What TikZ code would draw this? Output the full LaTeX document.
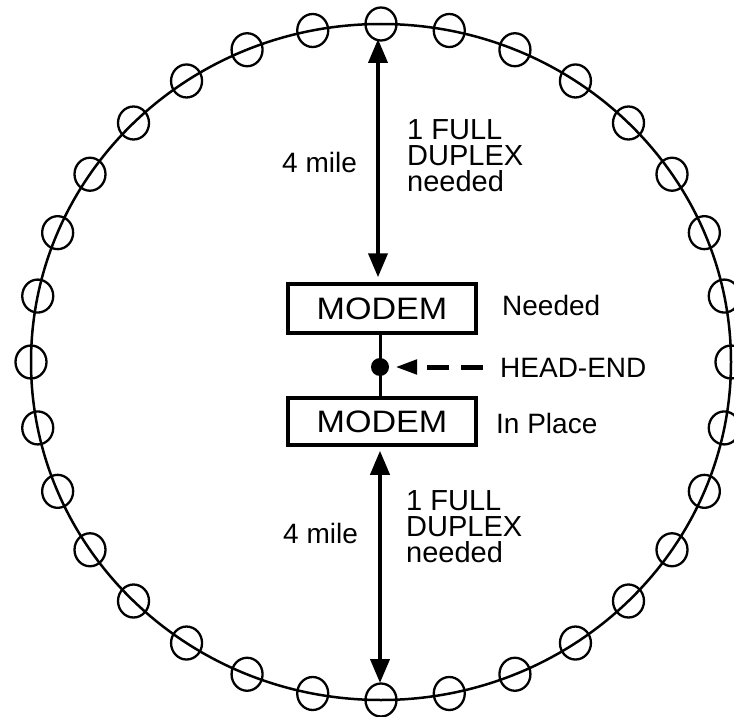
\documentclass[tikz,border=0pt]{standalone}
\usepackage{fontspec}
\setmainfont{Liberation Sans}
\newfontfamily\modemfont[FakeStretch=1.1]{Liberation Sans}
\usetikzlibrary{arrows.meta}
\begin{document}
\begin{tikzpicture}[x=1pt,y=-1pt,
  ring/.style={line width=2.5pt},
  bead/.style={line width=2.3pt},
  modembox/.style={draw,line width=3.5pt,minimum width=188pt,inner sep=0pt,
    font=\modemfont\fontsize{31}{31}\selectfont},
  lbl/.style={font=\fontsize{28}{28}\selectfont,inner sep=0pt,anchor=base west},
  col/.style={font=\fontsize{29}{26}\selectfont,inner sep=0pt,anchor=north west,align=left},
  span/.style={line width=4pt,
    {Triangle[length=24pt,width=19pt]}-{Triangle[length=24pt,width=19pt]}},
  headarrow/.style={line width=5pt,dash pattern=on 22pt off 12pt,
    -{Triangle[length=22pt,width=14pt]}},
  link/.style={line width=3pt}
]
\useasboundingbox (0,0) rectangle (734,717);
\clip (0,0) rectangle (734,717);
% ring and beads
\draw[ring] (381,362) ellipse [x radius=350, y radius=338];
\foreach \i in {0,...,31}{
  \pgfmathsetmacro{\a}{90+\i*11.25}
  \draw[bead] ({381+350*cos(\a)},{362-338*sin(\a)}) ellipse [x radius=15.5, y radius=16.5];
}
% modems and head-end
\node[modembox,minimum height=49pt] (m1) at (382,308.5) {MODEM};
\node[modembox,minimum height=47pt] (m2) at (382,421.5) {MODEM};
\node[circle,fill,inner sep=0pt,minimum size=18pt] (he) at (380,367) {};
\coordinate (top) at (378,39);
\coordinate (bot) at (380,683);
\coordinate (hs) at (483,367);
\draw[span,shorten >=5pt] (top) -- (top |- m1.north);
\draw[span,shorten <=4pt] (m2.south -| bot) -- (bot);
\draw[link] (m1.south -| he) -- (m2.north -| he);
\draw[headarrow,shorten >=6pt] (hs) -- (he.east);
% labels
\node[lbl] (nd) at (502,315) {Needed};
\node[lbl] (hd) at (500,377) {HEAD-END};
\node[lbl] (ip) at (496,433) {In Place};
\node[lbl] (ma) at (282,172) {4 mile};
\node[lbl] (mb) at (283,543) {4 mile};
\node[col] (fa) at (407,119.2) {1 FULL\\DUPLEX\\needed};
\node[col] (fb) at (406,490.2) {1 FULL\\DUPLEX\\needed};
\end{tikzpicture}
\end{document}
